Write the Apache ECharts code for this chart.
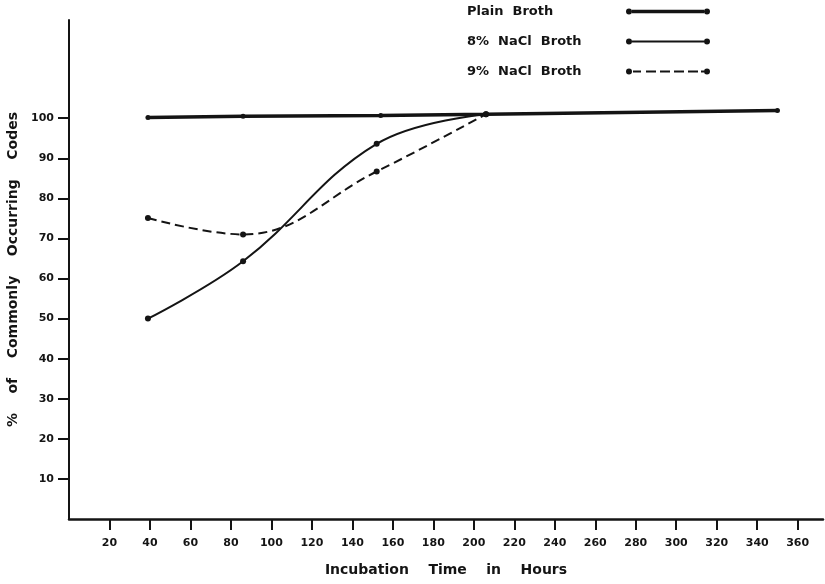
<!DOCTYPE html>
<html>
<head>
<meta charset="utf-8">
<script src="https://cdn.jsdelivr.net/npm/echarts@6/dist/echarts.min.js"></script>
<style>
  html, body { margin: 0; padding: 0; background: #fff; }
  #chart { width: 825px; height: 584px; }
</style>
</head>
<body>
<div id="chart"></div>
<script>
// data
const seriesNames = ['Plain  Broth', '8%  NaCl  Broth', '9%  NaCl  Broth']
const plainHours = [39, 86, 154, 206, 350]
const plainPct = [100.2, 100.5, 100.7, 101, 101.9]
const nacl8Hours = [39, 86, 152, 206]
const nacl8Pct = [50, 64.3, 93.6, 101]
const nacl9Hours = [39, 86, 152, 206]
const nacl9Pct = [75.1, 71, 86.7, 101]
const xTicks = [20, 40, 60, 80, 100, 120, 140, 160, 180, 200, 220, 240, 260, 280, 300, 320, 340, 360]
const yTicks = [10, 20, 30, 40, 50, 60, 70, 80, 90, 100]

const ink = '#141414'
const font = 'DejaVu Sans'

function pairs(xs, ys) {
  return xs.map((x, i) => [x, ys[i]])
}

// legend icons: line with a dot at each end (box 84 x 6)
const dot = (cx) => `M${cx - 3},3A3,3,0,1,1,${cx + 3},3A3,3,0,1,1,${cx - 3},3Z`
const iconPlain = 'path://' + dot(3) + 'M6,1.3H78V4.7H6Z' + dot(81)
const icon8 = 'path://' + dot(3) + 'M6,2H78V4H6Z' + dot(81)
const icon9 = 'path://' + dot(3) + 'M7,2H15V4H7ZM20,2H30V4H20ZM34,2H44V4H34ZM48,2H58V4H48ZM62,2H72V4H62ZM75,2H78V4H75Z' + dot(81)

const chart = echarts.init(document.getElementById('chart'))

const option = {
  backgroundColor: '#fff',
  animation: false,
  textStyle: { fontFamily: font, fontWeight: 'bold', color: ink },
  grid: { left: 69, right: 2, top: 20, bottom: 65, outerBoundsMode: 'none' },
  legend: {
    orient: 'vertical',
    left: 467,
    top: 5,
    padding: 0,
    align: 'right',
    itemWidth: 86,
    itemHeight: 6,
    itemGap: 17,
    selectedMode: false,
    itemStyle: { color: ink, borderWidth: 0 },
    formatter: (name) => '{t|' + name + '}',
    textStyle: {
      rich: {
        t: { width: 153, height: 16, align: 'left', fontFamily: font, fontWeight: 'bold', fontSize: 13, color: ink },
      },
    },
    data: [
      { name: seriesNames[0], icon: iconPlain },
      { name: seriesNames[1], icon: icon8 },
      { name: seriesNames[2], icon: icon9 },
    ],
  },
  xAxis: {
    type: 'value',
    min: 0,
    max: 372.5,
    name: 'Incubation    Time    in    Hours',
    nameLocation: 'middle',
    nameGap: 44,
    nameTextStyle: { fontFamily: font, fontWeight: 'bold', fontSize: 14, color: ink },
    splitLine: { show: false },
    axisLine: { lineStyle: { color: ink, width: 2.5 } },
    axisTick: { customValues: xTicks, length: 11, lineStyle: { color: ink, width: 2 } },
    axisLabel: {
      customValues: xTicks,
      margin: 19,
      fontFamily: font,
      fontWeight: 'bold',
      fontSize: 11,
      color: ink,
    },
  },
  yAxis: {
    type: 'value',
    min: 0,
    max: 124.5,
    name: '%    of    Commonly    Occurring    Codes',
    nameLocation: 'middle',
    nameRotate: 90,
    nameGap: 47,
    nameTextStyle: { fontFamily: font, fontWeight: 'bold', fontSize: 14, color: ink },
    splitLine: { show: false },
    axisLine: { show: true, lineStyle: { color: ink, width: 2 } },
    axisTick: { show: true, customValues: yTicks, length: 11, lineStyle: { color: ink, width: 2 } },
    axisLabel: {
      customValues: yTicks,
      margin: 15,
      fontFamily: font,
      fontWeight: 'bold',
      fontSize: 11,
      color: ink,
    },
  },
  series: [
    {
      name: seriesNames[0],
      type: 'line',
      data: pairs(plainHours, plainPct),
      symbol: 'circle',
      symbolSize: 5,
      itemStyle: { color: ink },
      lineStyle: { color: ink, width: 3.5 },
      z: 3,
    },
    {
      name: seriesNames[1],
      type: 'line',
      smooth: 0.4,
      data: pairs(nacl8Hours, nacl8Pct),
      symbol: 'circle',
      symbolSize: 6,
      itemStyle: { color: ink },
      lineStyle: { color: ink, width: 2 },
    },
    {
      name: seriesNames[2],
      type: 'line',
      smooth: 0.4,
      data: pairs(nacl9Hours, nacl9Pct),
      symbol: 'circle',
      symbolSize: 6,
      itemStyle: { color: ink },
      lineStyle: { color: ink, width: 2, type: [9, 5] },
    },
  ],
}

chart.setOption(option)
</script>
</body>
</html>
